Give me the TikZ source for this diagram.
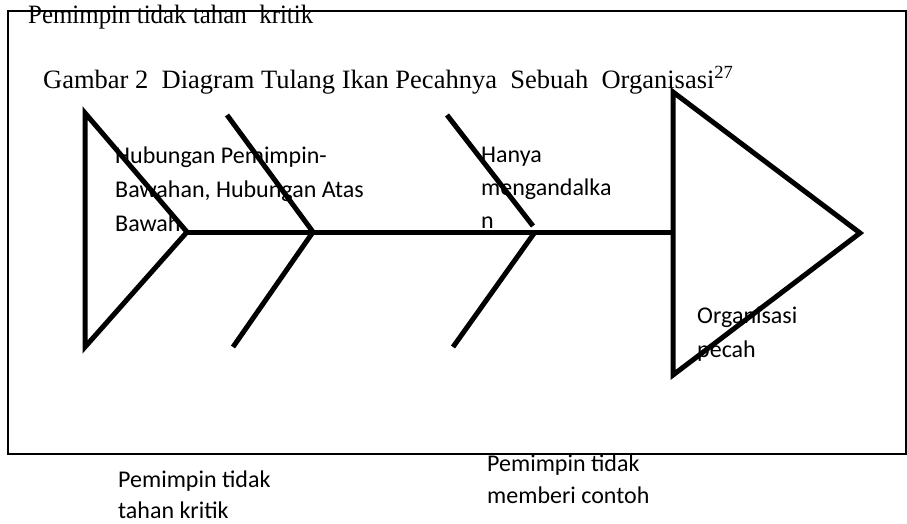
\documentclass[tikz,border=0pt]{standalone}
\usepackage{fontspec}
\setmainfont{Liberation Serif}
\newfontfamily\calibri{Carlito}
\usetikzlibrary{positioning}

\tikzset{
  bone/.style={line width=5pt},
  boxline/.style={line width=1.8pt},
  lbl/.style={anchor=base west,inner sep=0pt,align=left,font=\calibri\fontsize{24}{34}\selectfont},
  ttl/.style={anchor=base west,inner sep=0pt,font=\fontsize{26.5}{30}\selectfont}
}

\begin{document}
\begin{tikzpicture}[x=1pt,y=-1pt]
 \useasboundingbox (0,0) rectangle (907,523);
 % frame
 \draw[boxline] (8,11) rectangle (906,454);
 % texts of the page
 \node[ttl,xscale=0.94] (top) at (28,23) {Pemimpin tidak tahan\ \ kritik};
 \node[ttl] (title) at (43,88) {Gambar 2\ \ Diagram Tulang Ikan Pecahnya\ \ Sebuah\ \ Organisasi\textsuperscript{27}};
 % joints of the fish
 \coordinate (tailtop) at (85,113);
 \coordinate (tailbot) at (85,347);
 \coordinate (tail) at (187,232);
 \coordinate (jA) at (313,232);
 \coordinate (jB) at (535,232);
 \coordinate (neck) at (673,232);
 \coordinate (headtop) at (673,92);
 \coordinate (headbot) at (673,375);
 \coordinate (nose) at (860,233);
 \coordinate (Aup) at (227,115);
 \coordinate (Adown) at (233,347);
 \coordinate (Bup) at (447,115);
 \coordinate (Bend) at (533,226);
 \coordinate (Bdown) at (453,347);
 % tail, spine and head
 \draw[bone] (tailtop) -- (tail) -- (tailbot) -- cycle;
 \draw[bone] (tail) -- (neck);
 \draw[bone] (headtop) -- (nose) -- (headbot) -- cycle;
 % bones
 \draw[bone] (Aup) -- (jA) -- (Adown);
 \draw[bone] (Bup) -- (Bend);
 \draw[bone] (jB) -- (Bdown);
 % labels (placed at the baseline of their last line)
 \node[lbl] (hub) at (115,231) {Hubungan Pemimpin-\\Bawahan, Hubungan Atas\\Bawah};
 \node[lbl,font=\calibri\fontsize{24}{33}\selectfont] (hanya) at (481,228) {Hanya\\mengandalka\\n};
 \node[lbl] (pecah) at (697,357) {Organisasi\\pecah};
 \node[lbl,font=\calibri\fontsize{24}{31}\selectfont] (kritik) at (118,518) {Pemimpin tidak\\tahan kritik};
 \node[lbl,font=\calibri\fontsize{24}{32}\selectfont] (contoh) at (487,503) {Pemimpin tidak\\memberi contoh};
\end{tikzpicture}
\end{document}
